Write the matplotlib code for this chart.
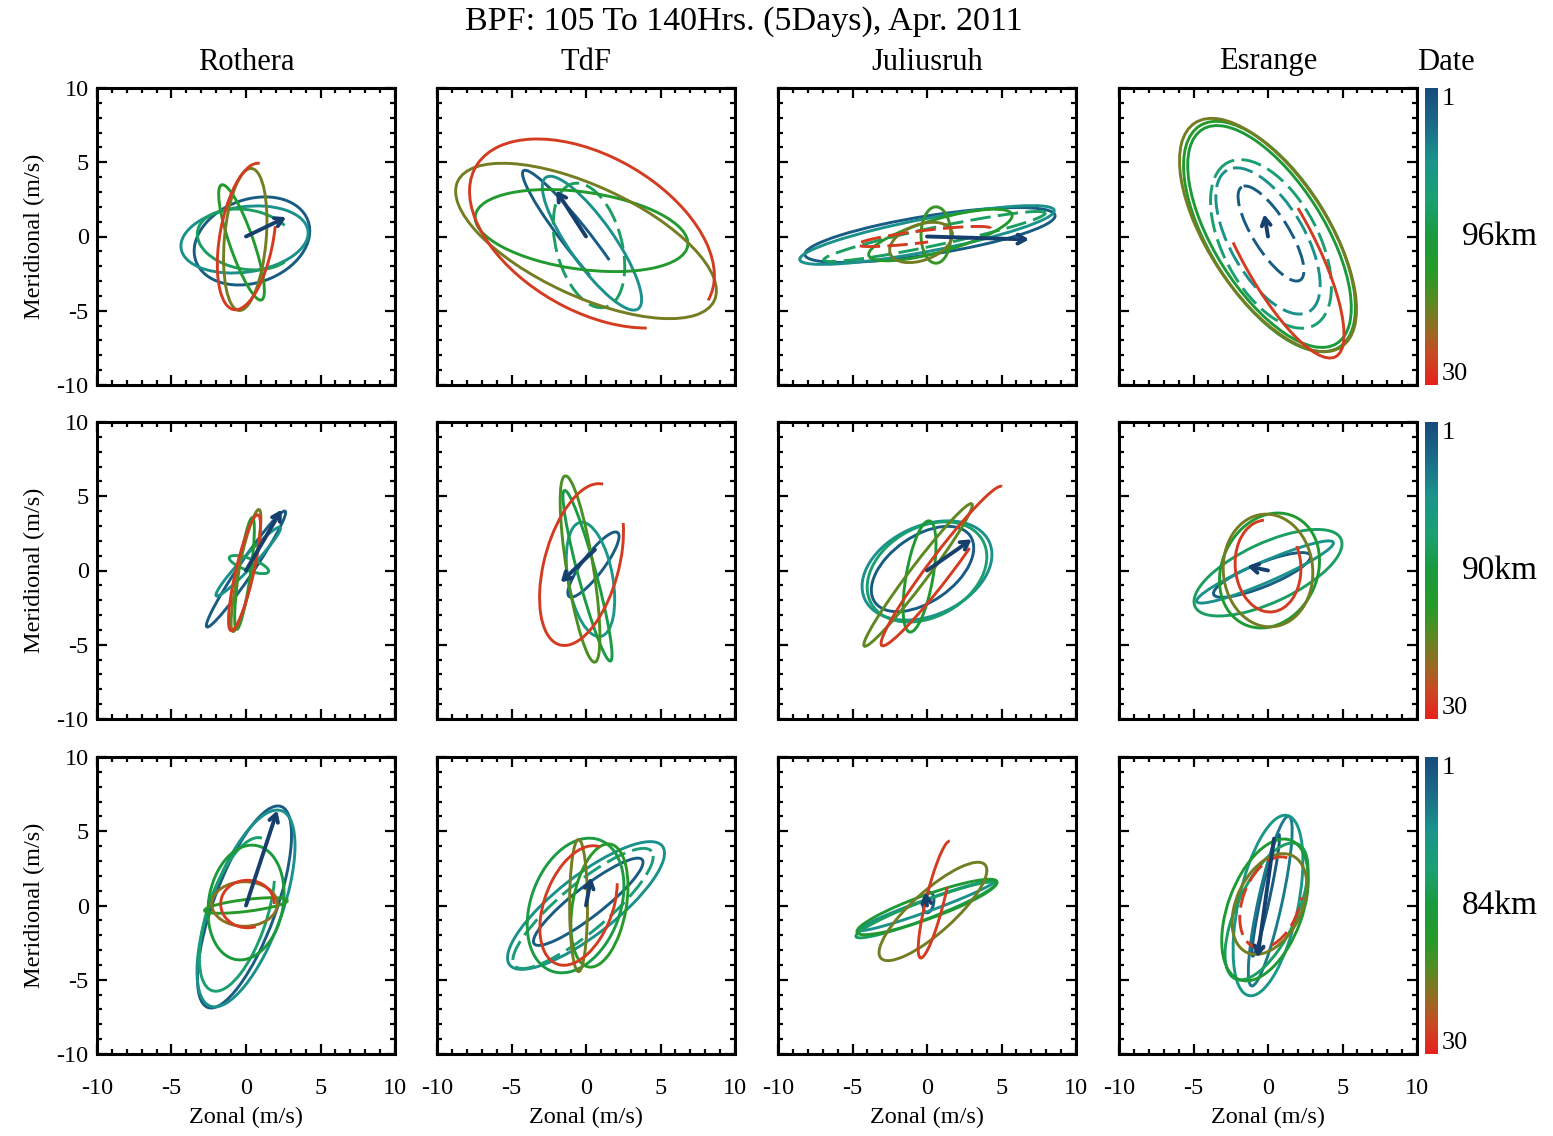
import matplotlib
matplotlib.use("Agg")
import matplotlib.pyplot as plt
from matplotlib.patches import Arc
from matplotlib.colors import LinearSegmentedColormap, Normalize
from matplotlib.cm import ScalarMappable
from matplotlib.ticker import MultipleLocator

plt.rcParams["font.family"] = ["Liberation Serif", "DejaVu Serif"]
plt.rcParams["axes.unicode_minus"] = False

TITLE = "BPF: 105 To 140Hrs. (5Days), Apr. 2011"
STATIONS = ["Rothera", "TdF", "Juliusruh", "Esrange"]
HEIGHTS = ["96km", "90km", "84km"]
DAY_FIRST, DAY_LAST = 1, 30
AXIS_TICKS = [-10, -5, 0, 5, 10]

# Hodograph loops, one per wave cycle:
# (day, centre_u, centre_v, semi_major, semi_minor, tilt_deg, theta1, theta2, dashed)
ROTHERA_96 = [
    (3, 0.4, -0.3, 4.0, 2.8, 20, 0, 360, 0),
    (8, -0.1, -0.2, 4.3, 2.2, 8, 0, 360, 0),
    (13, 0.0, -0.2, 3.3, 2.0, -10, 30, 340, 0),
    (18, -0.3, -0.4, 4.1, 0.8, -71, 0, 360, 0),
    (23, -0.05, -0.2, 4.8, 1.4, 85, 0, 360, 0),
    (28, 0.05, 0.0, 5.0, 1.8, 80, 0, 300, 0),
]
TDF_96 = [
    (3, -0.5, -0.3, 6.0, 0.9, -52, 20, 340, 0),
    (8, 0.4, -0.45, 5.4, 1.5, -55, 0, 360, 0),
    (13, 0.2, -0.6, 4.3, 2.2, 105, 0, 360, 1),
    (18, -0.3, 0.4, 7.2, 2.6, -8, 0, 360, 0),
    (23, 0.0, -0.3, 9.5, 3.7, -25, 0, 360, 0),
    (28, 0.4, 0.2, 9.0, 5.2, -30, 0, 330, 0),
]
JULIUSRUH_96 = [
    (3, 0.2, 0.1, 8.5, 1.3, 9, 0, 360, 0),
    (8, 0.0, 0.1, 8.7, 1.1, 11, 0, 360, 0),
    (13, 0.5, 0.0, 7.6, 0.6, 12, 0, 360, 1),
    (18, 0.9, 0.1, 5.0, 1.1, 16, 0, 360, 0),
    (20, 0.6, 0.1, 1.9, 1.0, 90, 0, 360, 0),
    (23, -0.4, -0.4, 2.2, 1.2, 20, 0, 360, 0),
    (28, -0.2, 0.0, 4.5, 0.4, 7, 0, 300, 1),
]
ESRANGE_96 = [
    (3, 0.2, 0.2, 3.7, 1.2, 122, 0, 360, 1),
    (8, 0.0, -0.3, 5.5, 2.5, 120, 0, 360, 1),
    (12, 0.2, -0.5, 6.2, 3.2, 118, 0, 360, 1),
    (16, 0.1, 0.0, 8.5, 3.7, 122, 0, 360, 0),
    (19, 0.1, 0.0, 8.8, 4.0, 122, 0, 360, 0),
    (23, 0.0, 0.1, 9.0, 4.0, 123, 0, 360, 0),
    (28, 0.5, -0.5, 8.6, 2.5, 118, 60, 300, 0),
]
ROTHERA_90 = [
    (3, 0.0, 0.1, 4.7, 0.5, 56, 0, 360, 0),
    (8, 0.15, 0.6, 3.15, 0.4, 47, 0, 360, 0),
    (13, 0.2, 0.4, 1.4, 0.4, -20, 0, 360, 0),
    (18, -0.1, -0.2, 3.8, 0.4, 82, 0, 360, 0),
    (23, 0.0, 0.0, 4.2, 0.5, 78, 0, 360, 0),
    (28, -0.1, -0.15, 4.0, 0.6, 77, 0, 360, 0),
]
TDF_90 = [
    (3, 0.5, 0.4, 2.7, 0.7, 53, 0, 360, 0),
    (9, 0.3, -0.6, 3.9, 1.5, 100, 0, 360, 0),
    (15, 0.1, -0.35, 5.95, 0.6, 105, 0, 360, 0),
    (21, -0.4, 0.1, 6.35, 0.9, 99, 0, 360, 0),
    (28, -0.3, 0.4, 5.6, 2.5, 75, 0, 330, 0),
]
JULIUSRUH_90 = [
    (3, -0.3, 0.1, 3.9, 2.2, 35, 0, 360, 0),
    (8, 0.0, 0.0, 4.6, 3.0, 25, 0, 360, 0),
    (12, 0.0, -0.1, 4.3, 3.0, 30, 0, 360, 0),
    (17, -0.5, -0.4, 3.8, 0.9, 80, 0, 360, 0),
    (22, -0.6, -0.3, 6.0, 0.6, 53, 0, 360, 0),
    (28, 1.0, 0.3, 6.7, 0.8, 53, 0, 340, 0),
]
ESRANGE_90 = [
    (3, -0.4, -0.3, 3.5, 0.8, 22, 0, 360, 0),
    (8, -0.2, -0.1, 5.0, 0.7, 23.5, 0, 360, 0),
    (13, 0.0, -0.15, 5.4, 2.0, 25, 0, 360, 0),
    (17, 0.1, 0.0, 4.0, 3.2, 65, 0, 360, 0),
    (23, 0.0, 0.0, 3.8, 3.0, 95, 0, 360, 0),
    (28, 0.0, 0.3, 3.1, 2.2, 95, 0, 300, 0),
]
ROTHERA_84 = [
    (3, -0.1, -0.1, 7.2, 2.1, 70, 0, 360, 0),
    (8, 0.0, -0.2, 7.0, 2.4, 70, 0, 360, 0),
    (12, -0.6, -0.6, 5.4, 2.0, 72, 0, 330, 0),
    (16, 0.0, 0.2, 3.9, 2.5, 80, 0, 360, 0),
    (19, 0.0, 0.0, 2.8, 0.4, 7, 0, 360, 0),
    (24, -0.1, 0.1, 2.2, 1.5, 0, 0, 360, 0),
    (28, 0.1, 0.1, 1.8, 1.6, 0, 0, 290, 0),
]
TDF_84 = [
    (3, 0.15, 0.25, 4.6, 1.0, 38, 0, 360, 0),
    (8, 0.0, 0.0, 6.5, 2.0, 38, 0, 360, 0),
    (11, -0.2, -0.2, 6.0, 1.6, 40, 0, 360, 1),
    (15, -0.7, 0.0, 4.7, 3.0, 70, 0, 360, 0),
    (19, 0.9, 0.0, 4.2, 1.8, 80, 0, 360, 0),
    (23, -0.5, 0.0, 4.45, 0.6, 90, 0, 360, 0),
    (28, -0.5, 0.0, 4.2, 2.3, 70, 0, 320, 0),
]
JULIUSRUH_84 = [
    (3, 0.1, 0.2, 0.7, 0.35, 80, 0, 360, 0),
    (8, 0.0, 0.0, 4.8, 0.4, 20, 0, 360, 0),
    (13, -0.1, -0.3, 5.0, 0.6, 21, 0, 360, 0),
    (17, 0.0, -0.1, 5.0, 0.8, 20, 0, 360, 0),
    (23, 0.4, -0.4, 4.7, 1.4, 42, 0, 360, 0),
    (28, 0.55, 0.4, 4.05, 0.6, 76, 0, 330, 0),
]
ESRANGE_84 = [
    (3, -0.15, 0.7, 4.2, 0.3, 78, 0, 360, 0),
    (6, 0.15, 0.3, 5.85, 0.8, 77.7, 0, 360, 0),
    (9, 0.0, 0.0, 6.2, 2.0, 78, 0, 360, 0),
    (13, -0.1, -0.4, 5.0, 2.0, 65, 0, 360, 0),
    (17, -0.2, -0.3, 5.0, 2.5, 70, 0, 360, 0),
    (23, 0.1, 0.1, 3.6, 2.2, 65, 0, 360, 0),
    (28, 0.2, 0.2, 3.2, 1.9, 70, 0, 300, 1),
]

LOOPS = [
    [ROTHERA_96, TDF_96, JULIUSRUH_96, ESRANGE_96],
    [ROTHERA_90, TDF_90, JULIUSRUH_90, ESRANGE_90],
    [ROTHERA_84, TDF_84, JULIUSRUH_84, ESRANGE_84],
]

# Start-of-month wind vector, (tail_u, tail_v, tip_u, tip_v)
ARROWS_96 = [(0, 0, 2.7, 1.3), (0, 0, -2.0, 3.1), (0, 0, 6.85, -0.2), (0, 0, -0.25, 1.5)]
ARROWS_90 = [(0, 0, 2.4, 4.1), (0.6, 1.4, -1.7, -0.8), (0, 0, 3.0, 2.1), (0, 0, -1.4, 0.3)]
ARROWS_84 = [(0, 0, 2.1, 6.4), (0, 0, 0.35, 1.9), (0, 0, -0.1, 0.9), (0.4, 4.5, -0.7, -3.5)]
ARROWS = [ARROWS_96, ARROWS_90, ARROWS_84]

cmap = LinearSegmentedColormap.from_list("date", [
    (0.00, "#174b7c"), (0.12, "#1a6a88"), (0.25, "#1a958c"), (0.38, "#1aa070"),
    (0.50, "#1a9a3c"), (0.62, "#259a28"), (0.72, "#5a8a22"), (0.82, "#9a6a22"),
    (0.90, "#c84a22"), (1.00, "#e8201e")])
norm = Normalize(DAY_FIRST, DAY_LAST)
ARROW_COLOR = "#163f6e"

W, H = 1553, 1136
fig = plt.figure(figsize=(W / 100, H / 100), dpi=100)

col_left = [97, 437, 778, 1119]
row_top = [88, 422, 757]
panel_w, panel_h = 298, 297

for r in range(3):
    for c in range(4):
        ax = fig.add_axes([col_left[c] / W, 1 - (row_top[r] + panel_h) / H,
                           panel_w / W, panel_h / H])
        for (day, u0, v0, a, b, tilt, t1, t2, dashed) in LOOPS[r][c]:
            arc = Arc((u0, v0), 2 * a, 2 * b, angle=tilt, theta1=t1, theta2=t2,
                      color=cmap(norm(day)), lw=2.1,
                      linestyle=(0, (7, 2.5)) if dashed else "-")
            ax.add_patch(arc)
        tu, tv, hu, hv = ARROWS[r][c]
        ax.annotate("", xy=(hu, hv), xytext=(tu, tv),
                    arrowprops=dict(arrowstyle="->,head_length=0.55,head_width=0.32",
                                    color=ARROW_COLOR, lw=2.8,
                                    shrinkA=0, shrinkB=0))
        ax.set_xlim(-10, 10)
        ax.set_ylim(-10, 10)
        ax.xaxis.set_major_locator(MultipleLocator(5))
        ax.yaxis.set_major_locator(MultipleLocator(5))
        ax.xaxis.set_minor_locator(MultipleLocator(1))
        ax.yaxis.set_minor_locator(MultipleLocator(1))
        ax.tick_params(which="both", direction="in", top=True, right=True,
                       width=1.6, labelsize=17.5)
        ax.tick_params(which="major", length=7)
        ax.tick_params(which="minor", length=3.5)
        ax.tick_params(axis="x", pad=17)
        ax.tick_params(axis="y", pad=6)
        for s in ax.spines.values():
            s.set_linewidth(2.2)
        ax.set_xticks(AXIS_TICKS)
        ax.set_yticks(AXIS_TICKS)
        if c == 0:
            ax.set_ylabel("Meridional (m/s)", fontsize=17.5, labelpad=8)
        else:
            ax.set_yticklabels([])
        if r == 2:
            ax.set_xlabel("Zonal (m/s)", fontsize=17.5, labelpad=6)
        else:
            ax.set_xticklabels([])
        if r == 0:
            fig.text((col_left[c] + panel_w / 2) / W, 1 - 62 / H, STATIONS[c],
                     ha="center", va="center", fontsize=22)

    # Date colour bar for this altitude row
    cax = fig.add_axes([1425 / W, 1 - (row_top[r] + panel_h) / H, 13 / W, panel_h / H])
    cb = fig.colorbar(ScalarMappable(norm=norm, cmap=cmap), cax=cax)
    cb.outline.set_visible(False)
    cax.invert_yaxis()
    cb.set_ticks([DAY_FIRST, DAY_LAST])
    cb.set_ticklabels([str(DAY_FIRST), str(DAY_LAST)])
    cax.tick_params(length=0, labelsize=19, pad=3)
    labs = cax.get_yticklabels()
    labs[0].set_va("top")
    labs[1].set_va("bottom")
    fig.text(1500 / W, 1 - (row_top[r] + panel_h / 2) / H, HEIGHTS[r],
             ha="center", va="center", fontsize=24)

fig.text(1446 / W, 1 - 63 / H, "Date", ha="center", va="center", fontsize=22)
fig.text(744 / W, 1 - 22 / H, TITLE, ha="center", va="center", fontsize=24.5)

fig.savefig("out.png", dpi=100)
